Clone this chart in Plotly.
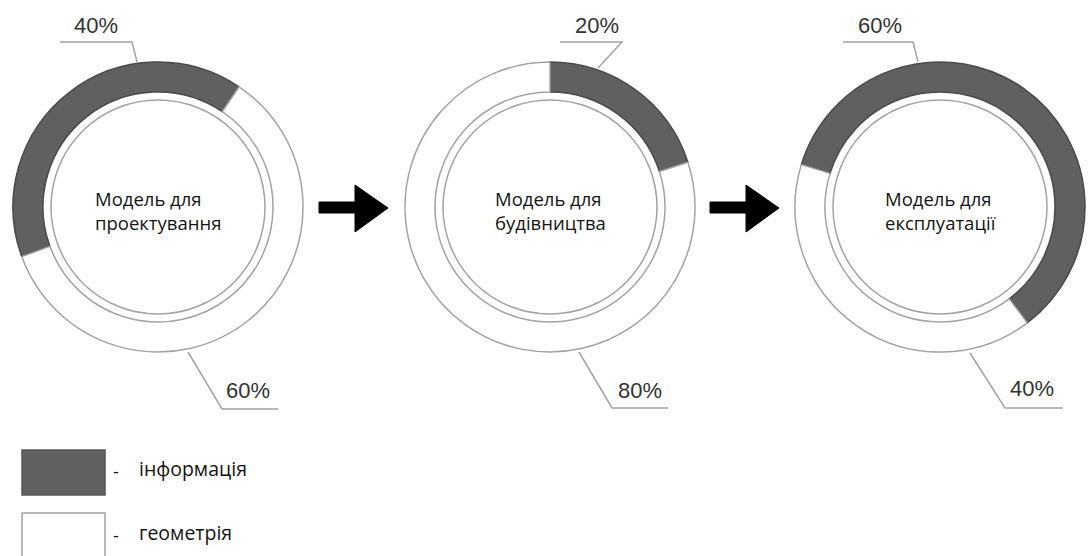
import plotly.graph_objects as go

W, H = 1089, 556

# ---- data ----
models = ["Модель для<br>проектування", "Модель для<br>будівництва", "Модель для<br>експлуатації"]
info_pct = [40, 20, 60]
geom_pct = [60, 80, 40]
info_labels = ["40%", "20%", "60%"]
geom_labels = ["60%", "80%", "40%"]
legend_names = ["інформація", "геометрія"]

# ---- layout / style ----
centers_x = [158, 550, 940]
center_y = 207
R_OUT = 145
HOLE = 115 / 145
R_INNER = 107
start_angles = [-110, 0, -73]
DARK = "#606060"
EDGE = "#a3a3a3"

fig = go.Figure()

for i in range(3):
    cx = centers_x[i]
    fig.add_trace(go.Pie(
        values=[info_pct[i], geom_pct[i]],
        labels=legend_names,
        sort=False,
        direction="clockwise",
        rotation=start_angles[i],
        hole=HOLE,
        textinfo="none",
        hoverinfo="label+percent",
        showlegend=False,
        marker=dict(colors=[DARK, "#ffffff"],
                    line=dict(color=["#4a4a4a", EDGE], width=1.5)),
        domain=dict(x=[(cx - R_OUT) / W, (cx + R_OUT) / W],
                    y=[1 - (center_y + R_OUT) / H, 1 - (center_y - R_OUT) / H]),
    ))

shapes = []
annotations = []

# inner circles + centre captions
for i in range(3):
    cx = centers_x[i]
    shapes.append(dict(type="circle", xref="x", yref="y",
                       x0=cx - R_INNER, x1=cx + R_INNER,
                       y0=center_y - R_INNER, y1=center_y + R_INNER,
                       line=dict(color=EDGE, width=1.5)))
    annotations.append(dict(x=cx, y=center_y + 3, xref="x", yref="y", text=models[i],
                            showarrow=False, align="left", xanchor="center", yanchor="middle",
                            font=dict(family="Open Sans", size=18.5, color="#141414")))

# leader lines and percentage labels
top_leaders = [[(60, 42), (132, 42), (137, 62)],
               [(560, 42), (622, 42), (598, 68)],
               [(843, 42), (913, 42), (918, 62)]]
top_text_pos = [(96, 25), (597, 25), (880, 25)]
bot_leaders = [[(188, 352), (222, 409), (278, 409)],
               [(579, 352), (612, 408), (668, 408)],
               [(970, 353), (1005, 408), (1063, 408)]]
bot_text_pos = [(248, 390), (640, 390), (1032, 388)]

def path_of(pts):
    return "M " + " L ".join(f"{x},{y}" for x, y in pts)

for i in range(3):
    for pts in (top_leaders[i], bot_leaders[i]):
        shapes.append(dict(type="path", xref="x", yref="y", path=path_of(pts),
                           line=dict(color=EDGE, width=1.5)))
    for (tx, ty), lab in ((top_text_pos[i], info_labels[i]), (bot_text_pos[i], geom_labels[i])):
        annotations.append(dict(x=tx, y=ty, xref="x", yref="y", text=lab, showarrow=False,
                                xanchor="center", yanchor="middle",
                                font=dict(family="Liberation Sans", size=22, color="#333333")))

# arrows between the donuts
for x0 in (319, 710):
    pts = [(x0, 202), (x0 + 36, 202), (x0 + 36, 185), (x0 + 69, 208),
           (x0 + 36, 232), (x0 + 36, 213), (x0, 213)]
    shapes.append(dict(type="path", xref="x", yref="y", path=path_of(pts) + " Z",
                       fillcolor="#000000", line=dict(color="#000000", width=1)))

# legend
legend_fill = [DARK, "#ffffff"]
legend_line = ["#555555", EDGE]
legend_y = [(450, 495), (513, 560)]
legend_text_y = [468, 532]
for k in range(2):
    y0, y1 = legend_y[k]
    shapes.append(dict(type="rect", xref="x", yref="y", x0=22, x1=105, y0=y0, y1=y1,
                       fillcolor=legend_fill[k], line=dict(color=legend_line[k], width=1.5)))
    ym = legend_text_y[k]
    annotations.append(dict(x=116, y=ym + 3, xref="x", yref="y", text="-", showarrow=False,
                            xanchor="center", yanchor="middle",
                            font=dict(family="Open Sans", size=18, color="#141414")))
    annotations.append(dict(x=137, y=ym, xref="x", yref="y", text=legend_names[k], showarrow=False,
                            xanchor="left", yanchor="middle",
                            font=dict(family="Open Sans", size=19.5, color="#141414")))

fig.update_layout(
    width=W, height=H,
    margin=dict(l=0, r=0, t=0, b=0),
    paper_bgcolor="white", plot_bgcolor="white",
    xaxis=dict(range=[0, W], visible=False, fixedrange=True),
    yaxis=dict(range=[H, 0], visible=False, fixedrange=True),
    shapes=shapes, annotations=annotations,
    showlegend=False,
)

fig.write_html("out.html")
